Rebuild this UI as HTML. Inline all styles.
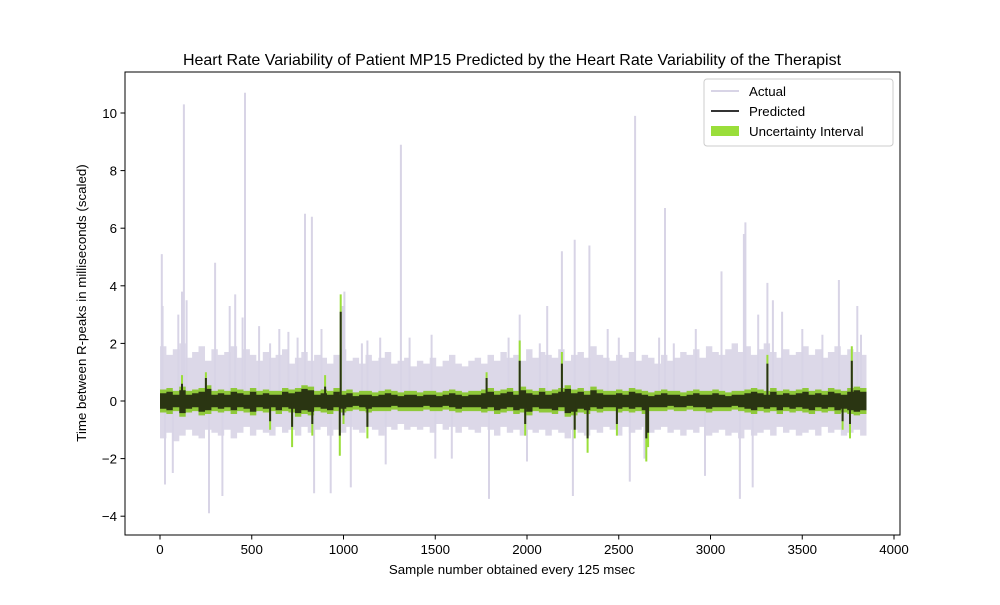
<!DOCTYPE html>
<html><head><meta charset="utf-8"><style>
body{margin:0;background:#fff}
svg text{font-family:"Liberation Sans","DejaVu Sans",sans-serif;fill:#000}
</style></head><body>
<svg id="chart" width="1000" height="600" xmlns="http://www.w3.org/2000/svg">
<rect width="1000" height="600" fill="#fff"/>
<text x="512" y="65" font-size="16" text-anchor="middle">Heart Rate Variability of Patient MP15 Predicted by the Heart Rate Variability of the Therapist</text>
<g id="marks"></g>
<rect x="125" y="72" width="775" height="463" fill="none" stroke="#000" stroke-width="1"/>
<g id="xt"></g><g id="yt"></g>
<text x="512" y="574" font-size="13.3" text-anchor="middle">Sample number obtained every 125 msec</text>
<text transform="translate(86,303) rotate(-90)" font-size="13.3" text-anchor="middle">Time between R-peaks in milliseconds (scaled)</text>
<g>
<rect x="704" y="79" width="189" height="67" rx="3" fill="#fff" fill-opacity="0.8" stroke="#ccc"/>
<g><line x1="711" y1="91" x2="739" y2="91" stroke="#d8d4e6" stroke-width="2"/><text x="749" y="96" font-size="13.3">Actual</text></g>
<g><line x1="711" y1="111" x2="739" y2="111" stroke="#333" stroke-width="2"/><text x="749" y="116" font-size="13.3">Predicted</text></g>
<g><rect x="711" y="126" width="28" height="10" fill="#9ade3a"/><text x="749" y="136" font-size="13.3">Uncertainty Interval</text></g>
</g>
</svg>
<script>
const xTicks=[0,500,1000,1500,2000,2500,3000,3500,4000];
const yTicks=[-4,-2,0,2,4,6,8,10];
const binSize=35;
const actHi=[1.9,1.6,1.8,2.0,1.5,1.7,1.9,1.4,1.8,1.6,1.7,1.9,1.5,1.8,1.6,1.4,1.7,1.5,1.6,1.8,
1.3,1.5,1.7,1.4,1.6,1.5,1.3,1.6,1.8,1.4,1.5,1.3,1.6,1.4,1.5,1.7,1.3,1.4,1.5,1.2,
1.4,1.3,1.5,1.2,1.4,1.6,1.3,1.2,1.4,1.5,1.3,1.6,1.4,1.7,1.5,1.6,1.4,1.8,1.5,1.7,
1.6,1.5,1.8,1.4,1.6,1.7,1.5,1.9,1.6,1.5,1.4,1.6,1.5,1.7,1.4,1.6,1.5,1.3,1.6,1.4,
1.5,1.7,1.6,1.8,1.5,1.9,1.7,1.6,1.8,2.0,1.7,1.9,1.6,1.8,2.0,1.7,1.5,1.8,1.6,1.7,
1.9,1.6,1.8,1.5,1.7,1.9,1.6,1.8,1.7,1.6];
const actLo=[-1.3,-1.1,-1.4,-1.2,-1.0,-1.2,-1.3,-1.0,-1.1,-1.2,-1.0,-1.3,-1.1,-0.9,-1.2,-1.0,-1.1,-1.2,-0.9,-1.1,
-1.0,-1.2,-0.9,-1.1,-1.0,-0.9,-1.2,-1.0,-1.1,-0.9,-1.0,-1.1,-0.9,-1.0,-1.2,-0.9,-1.0,-0.8,-1.0,-0.9,
-1.0,-0.9,-1.1,-0.8,-1.0,-0.9,-1.1,-0.9,-1.0,-1.1,-0.9,-1.0,-1.2,-0.9,-1.1,-1.0,-1.2,-1.0,-1.1,-1.0,
-1.2,-1.0,-1.1,-1.3,-1.0,-1.1,-1.2,-1.0,-1.1,-0.9,-1.0,-1.2,-0.9,-1.1,-1.0,-0.9,-1.1,-1.0,-0.9,-1.1,
-1.0,-1.2,-1.0,-1.1,-0.9,-1.2,-1.1,-1.0,-1.2,-1.1,-1.3,-1.0,-1.2,-1.1,-1.0,-1.2,-0.9,-1.1,-1.0,-1.2,
-1.1,-1.0,-1.2,-0.9,-1.1,-1.0,-1.2,-1.1,-1.0,-1.2];
const spikeIdx=[10,14,27,70,100,120,130,145,267,300,340,380,410,450,463,540,600,650,700,750,790,828,840,880,930,995,1005,1040,1100,1130,1200,1230,1313,1360,1480,1500,1590,1793,1900,1960,2000,2070,2110,2190,2250,2260,2340,2440,2500,2560,2589,2640,2720,2752,2800,2920,2970,3060,3160,3182,3190,3230,3260,3310,3340,3390,3500,3610,3700,3800,3820];
const spikeVal=[5.1,3.3,-2.9,-2.5,3.0,3.8,10.3,3.5,-3.9,4.8,-3.3,3.3,3.7,2.9,10.7,2.6,2.0,2.5,2.4,2.2,6.5,6.4,-3.2,2.5,-3.2,3.3,3.8,-3.0,2.0,2.1,2.2,-2.2,8.9,2.2,2.3,-2.0,-2.0,-3.4,2.2,3.0,-2.1,2.0,3.3,5.2,-3.3,5.6,5.4,2.5,2.2,-2.8,9.9,-2.0,2.2,6.7,2.0,2.5,-2.6,4.5,-3.4,5.8,6.2,-3.0,3.0,4.1,3.5,3.1,2.5,2.3,4.2,3.3,2.3];
const predHi=[0.35,0.4,0.3,0.45,0.3,0.35,0.4,0.5,0.3,0.35,0.3,0.4,0.35,0.3,0.4,0.3,0.35,0.3,0.3,0.4,
0.35,0.4,0.5,0.45,0.3,0.35,0.3,0.4,0.3,0.35,0.25,0.3,0.3,0.25,0.3,0.35,0.3,0.25,0.3,0.3,
0.25,0.3,0.3,0.25,0.3,0.35,0.3,0.25,0.3,0.3,0.35,0.4,0.3,0.35,0.4,0.3,0.45,0.35,0.3,0.4,
0.3,0.35,0.4,0.5,0.35,0.4,0.3,0.45,0.35,0.3,0.3,0.35,0.3,0.4,0.35,0.3,0.25,0.3,0.35,0.3,
0.3,0.25,0.3,0.35,0.3,0.3,0.35,0.3,0.25,0.3,0.3,0.35,0.4,0.35,0.3,0.4,0.3,0.35,0.3,0.35,
0.4,0.3,0.35,0.3,0.4,0.35,0.3,0.4,0.45,0.4];
const predLo=[-0.35,-0.4,-0.3,-0.5,-0.35,-0.3,-0.45,-0.4,-0.3,-0.35,-0.3,-0.4,-0.3,-0.35,-0.45,-0.3,-0.35,-0.3,-0.4,-0.3,
-0.35,-0.5,-0.4,-0.45,-0.3,-0.35,-0.4,-0.3,-0.35,-0.3,-0.25,-0.3,-0.35,-0.3,-0.3,-0.3,-0.25,-0.3,-0.3,-0.3,
-0.3,-0.25,-0.3,-0.3,-0.25,-0.3,-0.35,-0.3,-0.3,-0.3,-0.35,-0.3,-0.4,-0.35,-0.3,-0.4,-0.35,-0.45,-0.3,-0.35,
-0.35,-0.4,-0.3,-0.5,-0.45,-0.35,-0.4,-0.3,-0.35,-0.3,-0.3,-0.35,-0.3,-0.35,-0.3,-0.4,-0.3,-0.3,-0.3,-0.25,
-0.3,-0.3,-0.25,-0.3,-0.3,-0.35,-0.3,-0.3,-0.3,-0.25,-0.3,-0.35,-0.4,-0.3,-0.35,-0.3,-0.4,-0.3,-0.35,-0.3,
-0.35,-0.4,-0.3,-0.35,-0.3,-0.4,-0.35,-0.4,-0.45,-0.4];
const predSpikeIdx=[120,250,600,720,830,900,980,985,1000,1130,1780,1960,1990,2190,2260,2330,2490,2650,2660,3310,3720,3760,3770];
const predSpikeVal=[0.6,0.8,-0.7,-0.9,-0.8,0.5,-1.2,3.1,-0.5,-0.9,0.8,1.4,-0.8,1.3,-1.0,-1.3,-0.8,-1.3,-1.1,1.3,-0.7,-0.8,1.4];
const uncSpikeVal=[0.9,1.0,-1.0,-1.6,-1.2,0.9,-1.9,3.7,-0.8,-1.3,1.0,2.1,-1.2,1.7,-1.3,-1.8,-1.2,-2.1,-1.6,1.6,-1.0,-1.3,1.9];

const X0=160,XS=0.1835,Y0=401,YS=28.8;
const xs=v=>X0+v*XS, ys=v=>Y0-v*YS;
const NS='http://www.w3.org/2000/svg';
function mk(t,a){const e=document.createElementNS(NS,t);for(const k in a)e.setAttribute(k,a[k]);return e;}
const marks=document.getElementById('marks');
function bandPath(hi,lo,pad){
  let d='';
  hi.forEach((h,i)=>{const x0=xs(i*binSize),x1=xs(Math.min((i+1)*binSize,3850));
    d+=`M${x0.toFixed(1)},${ys(h+pad).toFixed(1)}H${x1.toFixed(1)}V${ys(lo[i]-pad).toFixed(1)}H${x0.toFixed(1)}Z`;});
  return d;
}
function spikePath(idx,val){return idx.map((ix,k)=>`M${xs(ix).toFixed(1)},${Y0}V${ys(val[k]).toFixed(1)}`).join('');}
const ab=mk('path',{d:bandPath(actHi,actLo,0),fill:'#dcd8e8'});


marks.appendChild(ab);
const as=mk('path',{d:spikePath(spikeIdx,spikeVal),stroke:'#d8d4e6','stroke-width':2,fill:'none'});


marks.appendChild(as);
const ub=mk('path',{d:bandPath(predHi,predLo,0.05),fill:'#8fc93a'});


marks.appendChild(ub);
const us=mk('path',{d:spikePath(predSpikeIdx,uncSpikeVal),stroke:'#9ade3a','stroke-width':2,fill:'none'});


marks.appendChild(us);
const pb=mk('path',{d:bandPath(predHi,predLo,-0.08),fill:'#2a3512'});


marks.appendChild(pb);
const ps=mk('path',{d:spikePath(predSpikeIdx,predSpikeVal),stroke:'#2a3512','stroke-width':2,fill:'none'});


marks.appendChild(ps);

const xt=document.getElementById('xt');
xTicks.forEach(v=>{const g=mk('g',{});


g.appendChild(mk('line',{x1:xs(v),x2:xs(v),y1:535,y2:539.5,stroke:'#000'}));
const t=mk('text',{x:xs(v),y:554,'font-size':13.3,'text-anchor':'middle'});t.textContent=v;g.appendChild(t);xt.appendChild(g);});
const yt=document.getElementById('yt');
yTicks.forEach(v=>{const g=mk('g',{});


g.appendChild(mk('line',{x1:120.5,x2:125,y1:ys(v),y2:ys(v),stroke:'#000'}));
const t=mk('text',{x:117,y:ys(v)+5,'font-size':13.3,'text-anchor':'end'});t.textContent=v<0?'\u2212'+(-v):v;g.appendChild(t);yt.appendChild(g);});
</script>
</body></html>
